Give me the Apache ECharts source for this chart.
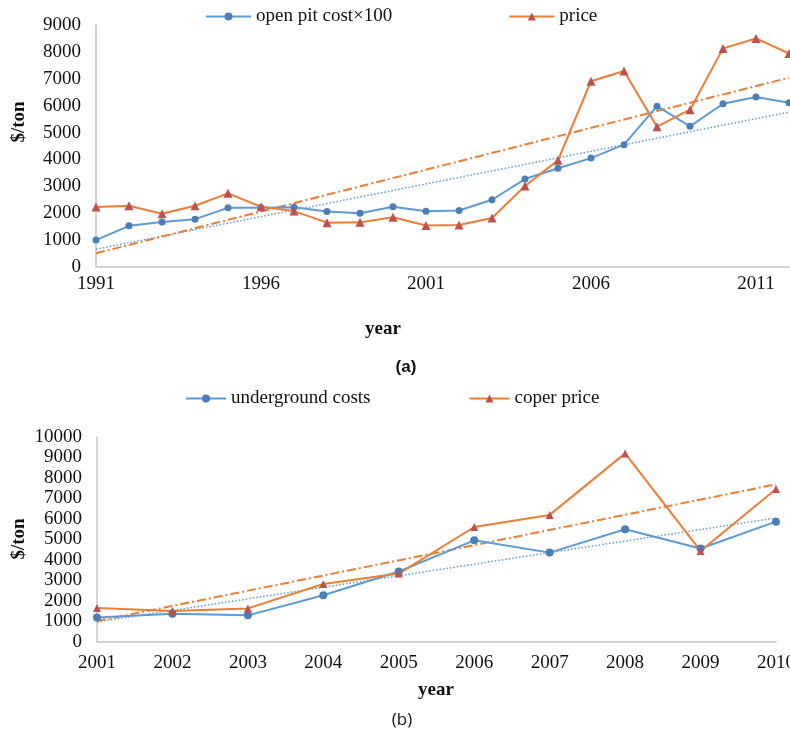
<!DOCTYPE html>
<html>
<head>
<meta charset="utf-8">
<script src="https://cdn.jsdelivr.net/npm/echarts@6/dist/echarts.min.js"></script>
<style>
  html, body { margin: 0; padding: 0; background: #fff; }
  #chart { width: 790px; height: 737px; }
</style>
</head>
<body>
<div id="chart"></div>
<script>
// (a) open pit, 1991-2012
const yearsA = ['1991','1992','1993','1994','1995','1996','1997','1998','1999','2000','2001',
  '2002','2003','2004','2005','2006','2007','2008','2009','2010','2011','2012']
const openPitCost = [1000, 1530, 1670, 1780, 2200, 2200, 2220, 2060, 2000, 2240, 2070,
  2100, 2500, 3270, 3670, 4050, 4550, 5980, 5230, 6070, 6320, 6110]
const priceA = [2230, 2280, 1980, 2280, 2740, 2240, 2080, 1650, 1660, 1850, 1540,
  1560, 1820, 3010, 3970, 6910, 7290, 5220, 5850, 8130, 8500, 7940]
// trend line end points
const costTrendA = [660, 5760]
const priceTrendA = [510, 7040]

// (b) underground, 2001-2010
const yearsB = ['2001','2002','2003','2004','2005','2006','2007','2008','2009','2010']
const undergroundCost = [1190, 1380, 1300, 2280, 3440, 4960, 4360, 5500, 4560, 5870]
const priceB = [1660, 1510, 1640, 2830, 3340, 5610, 6200, 9200, 4440, 7460]
const costTrendB = [980, 6050]
const priceTrendB = [1020, 7690]

const serif = '"Liberation Serif", "DejaVu Serif", serif'
const blue = '#5B9BD5'
const blueDot = '#4A7EBB'
const orange = '#ED7D31'
const red = '#C0504D'
const axisGray = '#C6C6C6'

// only the two ends, the line joins them
function trend(ends, n) {
  const d = new Array(n).fill(null)
  d[0] = ends[0]
  d[n - 1] = ends[1]
  return d
}

function xAxisOf(data, idx, interval, margin) {
  return {
    type: 'category', gridIndex: idx, data: data, boundaryGap: false,
    axisLine: { lineStyle: { color: axisGray, width: 1.5 } },
    axisTick: { show: false },
    axisLabel: { interval: interval, color: '#111', fontFamily: serif, fontSize: 19, margin: margin }
  }
}

function yAxisOf(idx, max) {
  return {
    type: 'value', gridIndex: idx, min: 0, max: max, interval: 1000,
    axisLine: { show: true, lineStyle: { color: axisGray, width: 1.5 } },
    axisTick: { show: false },
    splitLine: { show: false },
    axisLabel: { color: '#111', fontFamily: serif, fontSize: 19, margin: 15, formatter: v => String(v) }
  }
}

function dataLine(name, data, idx, color, markColor, symbol, size) {
  return {
    name: name, type: 'line', xAxisIndex: idx, yAxisIndex: idx, data: data,
    symbol: symbol, symbolSize: size,
    lineStyle: { color: color, width: 2 },
    itemStyle: { color: markColor },
    z: 3
  }
}

function trendLine(name, data, idx, color, type, width) {
  return {
    name: name, type: 'line', xAxisIndex: idx, yAxisIndex: idx, data: data,
    connectNulls: true, symbol: 'none', silent: true,
    lineStyle: { color: color, width: width, type: type },
    z: 2
  }
}

function legendOf(names, left, top, gap, w) {
  return {
    data: names, left: left, top: top, itemGap: gap, itemWidth: w, itemHeight: 10,
    textStyle: { fontFamily: serif, fontSize: 19, color: '#111' }
  }
}

const chart = echarts.init(document.getElementById('chart'))
chart.setOption({
  animation: false,
  backgroundColor: '#fff',
  grid: [
    { left: 96, right: 1, top: 25, bottom: 470, outerBoundsMode: 'none' },
    { left: 97, right: 14, top: 437, bottom: 95, outerBoundsMode: 'none' }
  ],
  legend: [
    legendOf(['open pit cost×100', 'price'], 200, 2, 116, 45),
    legendOf(['underground costs', 'coper price'], 180, 384, 98, 40)
  ],
  xAxis: [xAxisOf(yearsA, 0, 4, 8), xAxisOf(yearsB, 1, 0, 12)],
  yAxis: [yAxisOf(0, 9000), yAxisOf(1, 10000)],
  series: [
    trendLine('cost trend a', trend(costTrendA, yearsA.length), 0, blue, [1.5, 2], 1.5),
    trendLine('price trend a', trend(priceTrendA, yearsA.length), 0, orange, [9, 3, 2, 3], 2),
    dataLine('open pit cost×100', openPitCost, 0, blue, blueDot, 'circle', 7),
    dataLine('price', priceA, 0, orange, red, 'triangle', 9),
    trendLine('cost trend b', trend(costTrendB, yearsB.length), 1, blue, [1.5, 2], 1.5),
    trendLine('price trend b', trend(priceTrendB, yearsB.length), 1, orange, [9, 3, 2, 3], 2),
    dataLine('underground costs', undergroundCost, 1, blue, blueDot, 'circle', 8),
    dataLine('coper price', priceB, 1, orange, red, 'triangle', 8)
  ],
  graphic: [
    { type: 'text', x: 19, y: 122, rotation: Math.PI / 2,
      style: { text: '$/ton', font: 'bold 19px ' + serif, fill: '#111', align: 'center', verticalAlign: 'middle' } },
    { type: 'text', x: 383, y: 329,
      style: { text: 'year', font: 'bold 19px ' + serif, fill: '#111', align: 'center', verticalAlign: 'middle' } },
    { type: 'text', x: 406, y: 367,
      style: { text: '(a)', font: 'bold 17px "Liberation Sans", Arial, sans-serif', fill: '#111', align: 'center', verticalAlign: 'middle' } },
    { type: 'text', x: 19, y: 539, rotation: Math.PI / 2,
      style: { text: '$/ton', font: 'bold 19px ' + serif, fill: '#111', align: 'center', verticalAlign: 'middle' } },
    { type: 'text', x: 436, y: 690,
      style: { text: 'year', font: 'bold 19px ' + serif, fill: '#111', align: 'center', verticalAlign: 'middle' } },
    { type: 'text', x: 402, y: 720,
      style: { text: '(b)', font: '17px "Open Sans", "DejaVu Sans", sans-serif', fill: '#111', align: 'center', verticalAlign: 'middle' } }
  ]
})
</script>
</body>
</html>
